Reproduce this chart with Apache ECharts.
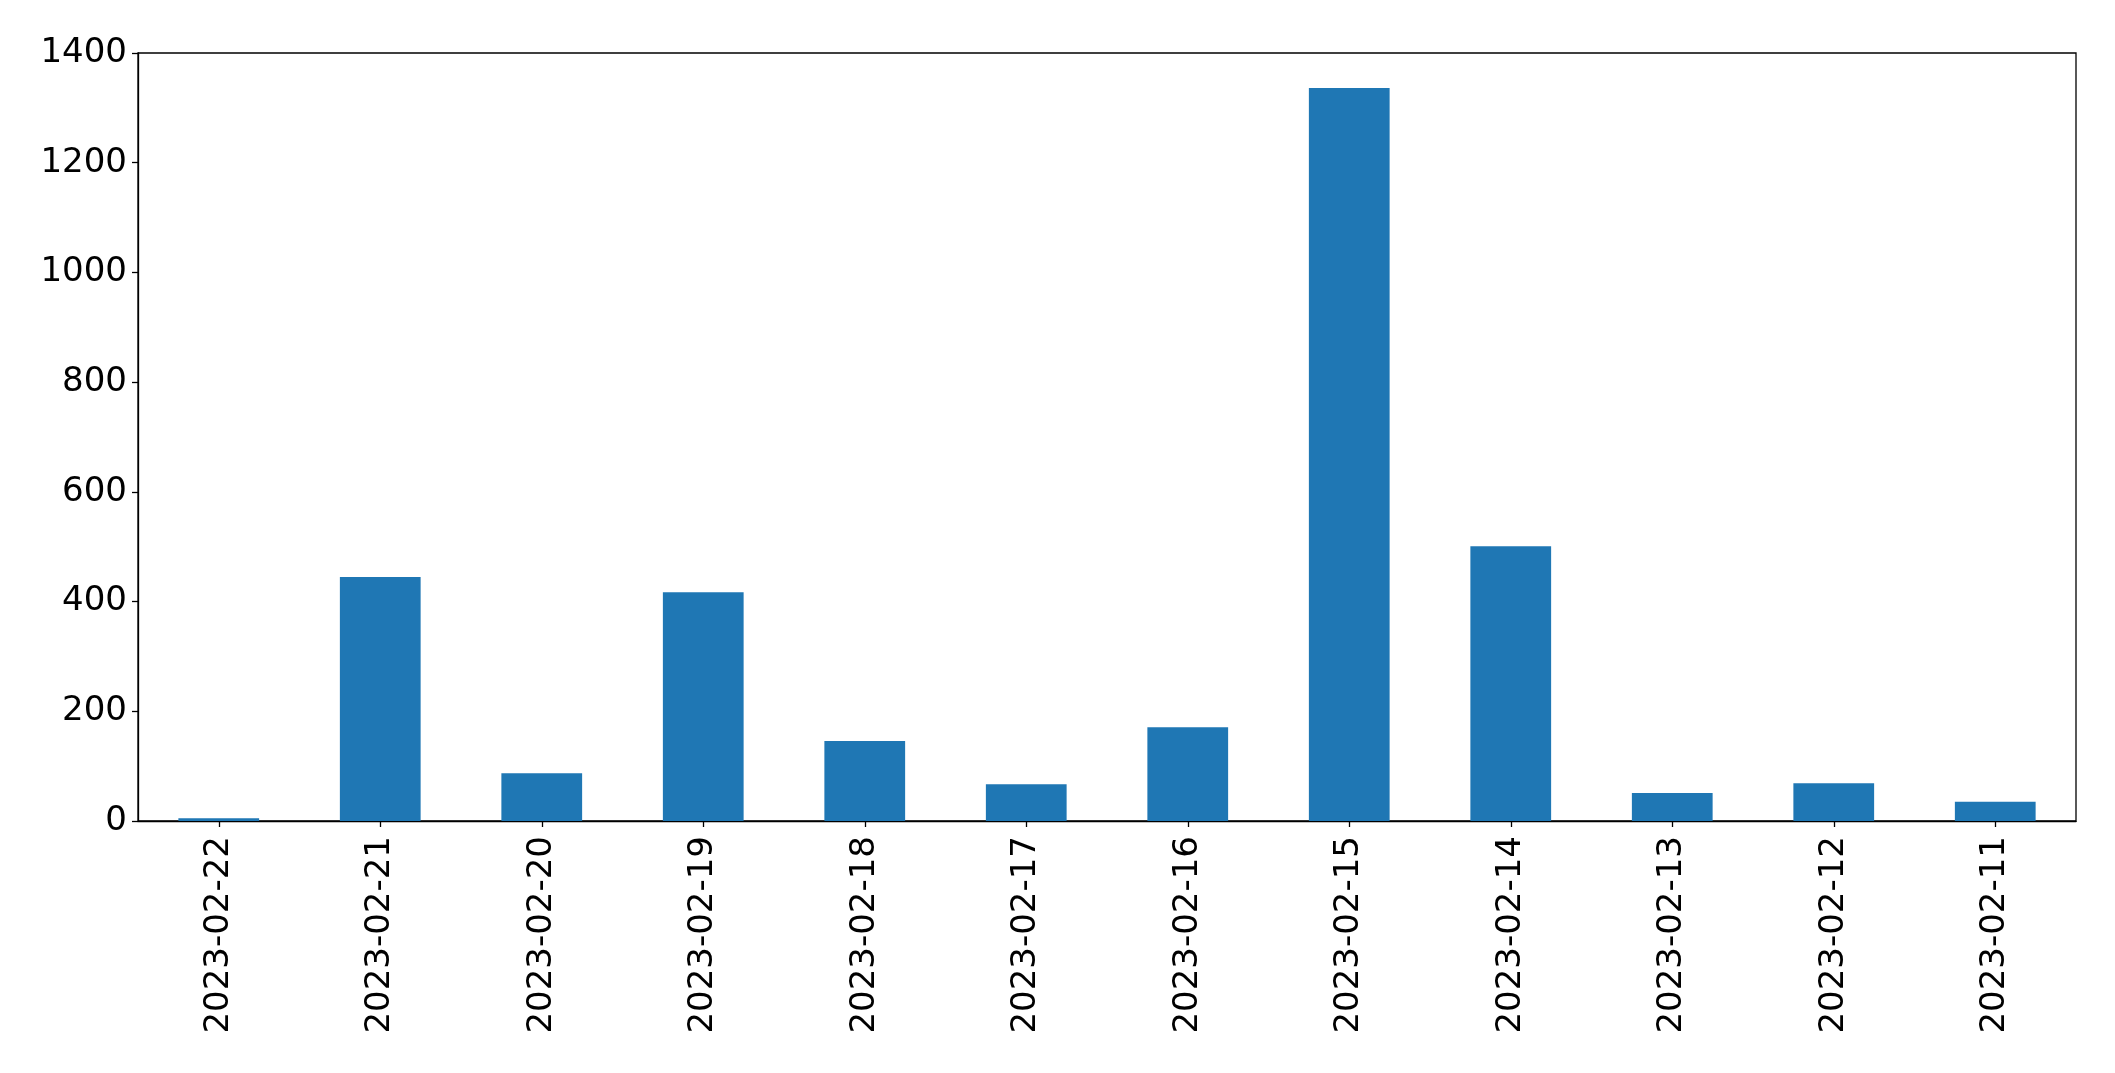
<!DOCTYPE html>
<html>
<head>
<meta charset="utf-8">
<script src="https://cdn.jsdelivr.net/npm/echarts@6/dist/echarts.min.js"></script>
<style>
html,body{margin:0;padding:0;background:#fff;}
#chart{width:2115px;height:1073px;}
</style>
</head>
<body>
<div id="chart"></div>
<script>
const categories = ['2023-02-22','2023-02-21','2023-02-20','2023-02-19','2023-02-18','2023-02-17','2023-02-16','2023-02-15','2023-02-14','2023-02-13','2023-02-12','2023-02-11'];
const values = [5, 445, 87, 417, 146, 67, 171, 1336, 501, 51, 69, 35];
const yTicks = [0, 200, 400, 600, 800, 1000, 1200, 1400];

const chart = echarts.init(document.getElementById('chart'), null, {renderer:'canvas'});
const font = 'DejaVu Sans';
chart.setOption({
  animation: false,
  backgroundColor: '#ffffff',
  grid: {left:138, right:39, top:53, bottom:252, show:true, borderColor:'#000', borderWidth:1.3, backgroundColor:'transparent'},
  xAxis: {
    type:'category',
    data: categories,
    axisLine:{show:true, lineStyle:{color:'#000', width:1.3}},
    axisTick:{show:true, alignWithLabel:true, length:6, lineStyle:{color:'#000', width:1.3}},
    axisLabel:{rotate:90, color:'#000', fontFamily:font, fontSize:34, margin:15, interval:0},
    splitLine:{show:false}
  },
  yAxis: {
    type:'value',
    min: yTicks[0],
    max: yTicks[yTicks.length-1],
    interval: 200,
    axisLine:{show:true, lineStyle:{color:'#000', width:1.3}},
    axisTick:{show:true, length:6, lineStyle:{color:'#000', width:1.3}},
    axisLabel:{color:'#000', fontFamily:font, fontSize:34, margin:11, formatter: v => String(v)},
    splitLine:{show:false}
  },
  series: [{
    type:'bar',
    data: values,
    barWidth:'50%',
    itemStyle:{color:'#1f77b4'}
  }]
});
</script>
</body>
</html>
